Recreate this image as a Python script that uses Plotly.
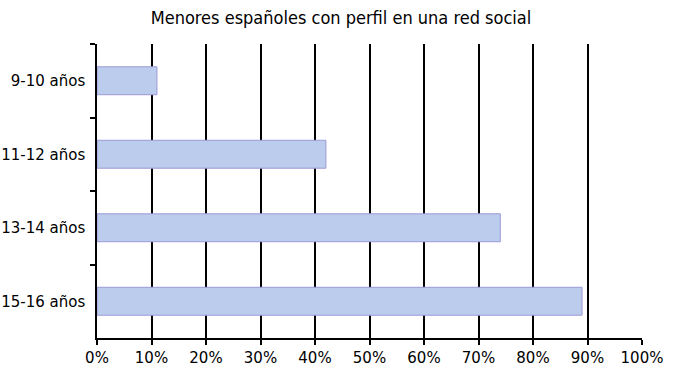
import plotly.graph_objects as go

categories = ["9-10 años", "11-12 años", "13-14 años", "15-16 años"]
values = [0.11, 0.42, 0.74, 0.89]
x_ticks = [i / 10 for i in range(11)]
x_tick_labels = [f"{i * 10}%" for i in range(11)]

fig = go.Figure(
    go.Bar(
        y=categories,
        x=values,
        orientation="h",
        width=0.38,
        marker=dict(color="#BCCCEC", line=dict(color="#9C9AD8", width=1)),
        hoverinfo="skip",
    )
)

fig.update_layout(
    width=673,
    height=370,
    margin=dict(l=97, r=31, t=44, b=32, autoexpand=False),
    paper_bgcolor="white",
    plot_bgcolor="white",
    showlegend=False,
    title=dict(
        text="Menores españoles con perfil en una red social",
        x=341 / 673,
        xanchor="center",
        xref="container",
        y=1 - 18 / 370,
        yref="container",
        yanchor="middle",
        font=dict(family="DejaVu Sans Condensed, sans-serif", size=18, color="black"),
    ),
    font=dict(family="DejaVu Sans, sans-serif", size=15, color="black"),
)

fig.update_xaxes(
    range=[0, 1],
    tickvals=x_ticks,
    ticktext=x_tick_labels,
    showgrid=True,
    gridcolor="black",
    gridwidth=1.5,
    showline=True,
    linecolor="black",
    linewidth=1.5,
    ticks="outside",
    ticklen=5,
    tickwidth=1.5,
    tickcolor="black",
    zeroline=False,
    fixedrange=True,
    automargin=False,
)

fig.update_yaxes(
    type="category",
    categoryorder="array",
    categoryarray=categories,
    range=[3.5, -0.5],
    showgrid=False,
    showline=True,
    linecolor="black",
    linewidth=1.5,
    ticks="outside",
    tickson="boundaries",
    ticklen=5,
    tickwidth=1.5,
    tickcolor="black",
    ticklabelstandoff=7,
    zeroline=False,
    fixedrange=True,
    automargin=False,
)

fig.write_html(
    "out.html",
    config={"displayModeBar": False},
    post_script="document.body.style.margin='0';document.body.style.overflow='hidden';",
)
